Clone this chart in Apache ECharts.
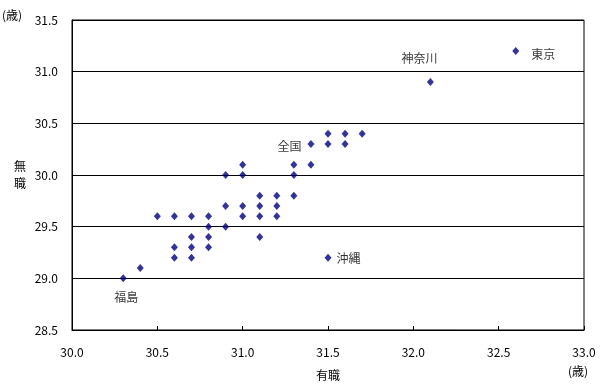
<!DOCTYPE html>
<html><head><meta charset="utf-8">
<script src="https://cdn.jsdelivr.net/npm/echarts@6/dist/echarts.min.js"></script>
<style>html,body{margin:0;padding:0;background:#fff}#c{width:603px;height:386px}</style>
</head><body><div id="c"></div>
<script>
// 有職 (x) and 無職 (y) average ages
const xVals = [31.5,31.6,31.7, 31.4,31.5,31.6, 31.0,31.3,31.4, 30.9,31.0,31.3, 31.1,31.2,31.3,
  30.9,31.0,31.1,31.2, 30.5,30.6,30.7,30.8,31.0,31.1,31.2, 30.8,30.9, 30.7,30.8,31.1,
  30.6,30.7,30.8, 30.6,30.7,31.5, 30.4, 30.3, 32.1, 32.6];
const yVals = [30.4,30.4,30.4, 30.3,30.3,30.3, 30.1,30.1,30.1, 30.0,30.0,30.0, 29.8,29.8,29.8,
  29.7,29.7,29.7,29.7, 29.6,29.6,29.6,29.6,29.6,29.6,29.6, 29.5,29.5, 29.4,29.4,29.4,
  29.3,29.3,29.3, 29.2,29.2,29.2, 29.1, 29.0, 30.9, 31.2];
const names = ['','','', '全国','','', '','','', '','','', '','','',
  '','','','', '','','','','','','', '','', '','','',
  '','','', '','','沖縄', '', '福島', '神奈川', '東京'];
const xTicks = [30.0,30.5,31.0,31.5,32.0,32.5,33.0];
const yTicks = [28.5,29.0,29.5,30.0,30.5,31.0,31.5];

const FONT = '"Noto Sans CJK JP", sans-serif';
const labelStyle = {
  '全国': {position:'left', distance:6, offset:[0,2]},
  '沖縄': {position:'right', distance:5, offset:[0,1]},
  '福島': {position:'bottom', distance:8, offset:[3,1]},
  '神奈川': {position:'top', distance:14, offset:[-11,0]},
  '東京': {position:'right', distance:12, offset:[0,3]}
};
const data = xVals.map((x,i)=>{
  const item = {value:[x,yVals[i]], name:names[i]};
  if (names[i]) {
    item.label = Object.assign({show:true, formatter:'{b}', color:'#000', fontSize:12, fontFamily:FONT}, labelStyle[names[i]]);
  }
  return item;
});

const chart = echarts.init(document.getElementById('c'), null, {renderer:'canvas'});
chart.setOption({
  animation:false,
  grid:{left:72, right:19, top:20, bottom:54, show:true, borderColor:'#000', borderWidth:1},
  xAxis:{type:'value', min:xTicks[0], max:xTicks[xTicks.length-1], interval:0.5,
    name:'有職', nameLocation:'middle', nameGap:39,
    nameTextStyle:{color:'#000', fontSize:12, fontFamily:FONT},
    axisLine:{show:true, onZero:false, lineStyle:{color:'#000'}},
    axisTick:{show:true, inside:true, length:4, lineStyle:{color:'#000'}},
    axisLabel:{color:'#000', fontSize:12, fontFamily:FONT, margin:16, formatter:v=>v.toFixed(1)},
    splitLine:{show:false}},
  yAxis:{type:'value', min:yTicks[0], max:yTicks[yTicks.length-1], interval:0.5,
    name:'無\n職', nameLocation:'middle', nameGap:46, nameRotate:0,
    nameTextStyle:{color:'#000', fontSize:12, fontFamily:FONT, lineHeight:17},
    axisLine:{show:true, onZero:false, lineStyle:{color:'#000'}},
    axisTick:{show:false},
    axisLabel:{color:'#000', fontSize:12, fontFamily:FONT, margin:14, formatter:v=>v.toFixed(1)},
    splitLine:{show:true, lineStyle:{color:'#000', width:1}}},
  graphic:[
    {type:'text', left:2, top:9, style:{text:'(歳)', fill:'#000', font:'12px '+FONT}},
    {type:'text', left:568, top:365, style:{text:'(歳)', fill:'#000', font:'12px '+FONT}}
  ],
  series:[{type:'scatter', symbol:'diamond', symbolSize:[7,8],
    itemStyle:{color:'#000080'}, data:data}]
});
</script></body></html>
